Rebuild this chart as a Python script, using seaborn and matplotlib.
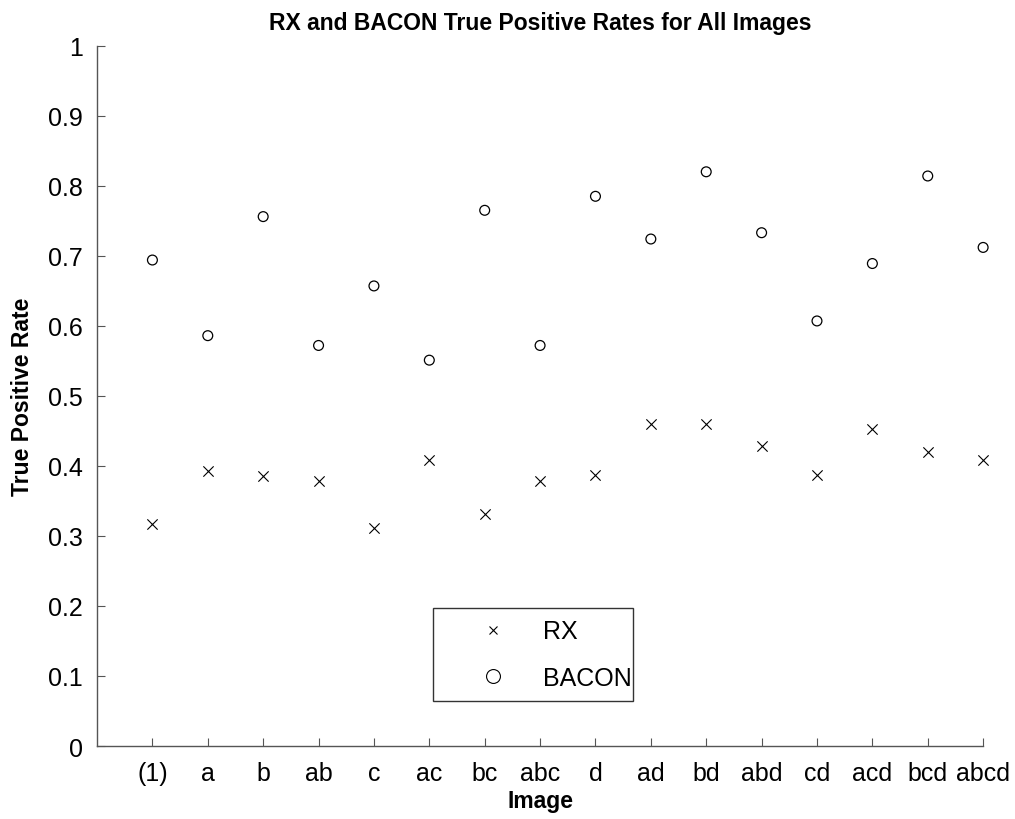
import matplotlib
matplotlib.use("Agg")
import matplotlib.pyplot as plt
from matplotlib.lines import Line2D
import pandas as pd
import seaborn as sns

# Treatment combinations (image labels) in standard order
images = ["(1)", "a", "b", "ab", "c", "ac", "bc", "abc",
          "d", "ad", "bd", "abd", "cd", "acd", "bcd", "abcd"]

# True positive rates per detector
rx_tpr = [0.317, 0.393, 0.385, 0.378, 0.311, 0.408, 0.332, 0.378,
          0.387, 0.460, 0.460, 0.428, 0.387, 0.452, 0.420, 0.408]
bacon_tpr = [0.694, 0.586, 0.756, 0.572, 0.657, 0.551, 0.765, 0.572,
             0.785, 0.724, 0.820, 0.733, 0.607, 0.689, 0.814, 0.712]

sns.set_theme(style="white")
plt.rcParams["font.family"] = ["Liberation Sans", "DejaVu Sans"]
plt.rcParams["text.color"] = "black"
plt.rcParams["axes.labelcolor"] = "black"

df = pd.DataFrame({
    "Image": images * 2,
    "TPR": rx_tpr + bacon_tpr,
    "Detector": ["RX"] * len(images) + ["BACON"] * len(images),
})

fig = plt.figure(figsize=(10.15, 8.2), dpi=100)
ax = fig.add_axes([0.0956, 0.089, 0.873, 0.854])

sns.scatterplot(data=df[df.Detector == "RX"], x="Image", y="TPR", ax=ax,
                marker="x", color="black", s=55, linewidth=0.8,
                legend=False, clip_on=False, zorder=3)
sns.scatterplot(data=df[df.Detector == "BACON"], x="Image", y="TPR", ax=ax,
                marker="o", facecolors="none", edgecolor="black", s=50,
                linewidth=0.9, legend=False, clip_on=False, zorder=3)

ax.set_xlim(-1, len(images) - 1)
ax.set_ylim(0, 1)
ax.set_yticks([i / 10 for i in range(11)])
ax.set_yticklabels(["0", "0.1", "0.2", "0.3", "0.4", "0.5", "0.6", "0.7",
                    "0.8", "0.9", "1"])
ax.set_xticks(range(len(images)))
ax.set_xticklabels(images)

for side in ("top", "right"):
    ax.spines[side].set_visible(False)
for side in ("left", "bottom"):
    ax.spines[side].set_color("#555555")
    ax.spines[side].set_linewidth(1.0)

ax.tick_params(axis="both", direction="in", length=6, width=0.8,
               color="#555555", labelsize=18, labelcolor="black",
               bottom=True, left=True)
ax.tick_params(axis="x", pad=11)
ax.tick_params(axis="y", pad=10)

ax.set_title("RX and BACON True Positive Rates for All Images",
             fontsize=16.5, fontweight="bold", pad=12)
ax.set_xlabel("Image", fontsize=16.5, fontweight="bold", labelpad=3)
ax.set_ylabel("True Positive Rate", fontsize=16.5, fontweight="bold",
              labelpad=10)

handles = [
    Line2D([], [], linestyle="none", marker="x", color="black",
           markersize=6, markeredgewidth=0.8),
    Line2D([], [], linestyle="none", marker="o", markerfacecolor="none",
           markeredgecolor="black", markersize=10, markeredgewidth=0.8),
]
leg = ax.legend(handles, ["RX", "BACON"], loc="upper left",
                bbox_to_anchor=(0.3792, 0.197, 0.2257, 0.0), mode="expand",
                fontsize=18, frameon=True, fancybox=False,
                edgecolor="black", handletextpad=0.05, borderpad=0.45,
                labelspacing=0.9, handlelength=3.9, borderaxespad=0)
leg.get_frame().set_linewidth(1.0)

fig.savefig("out.png", dpi=100)
